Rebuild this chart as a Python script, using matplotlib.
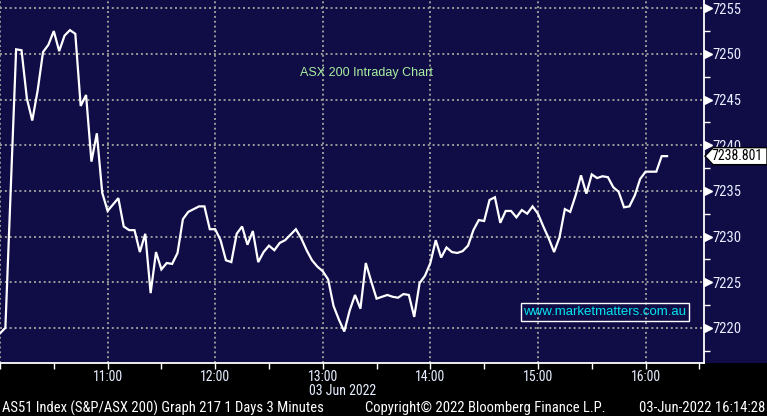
import matplotlib as mpl
mpl.use('Agg')
import matplotlib.pyplot as plt
from matplotlib import font_manager, transforms
from matplotlib.patches import Polygon, Rectangle

# ASX 200 intraday, 3 minute bars, x = minutes after 10:00
minutes = [0, 3, 9, 12, 15, 18, 21, 24, 27, 30, 33, 36, 39, 42, 45, 48, 51, 54, 57, 60,
           66, 69, 72, 75, 78, 81, 84, 87, 90, 93, 96, 99, 102, 105, 111, 114, 117, 120,
           123, 126, 129, 132, 135, 138, 141, 144, 147, 150, 153, 156, 159, 162, 165, 168,
           171, 174, 177, 180, 183, 186, 189, 192, 195, 198, 201, 204, 207, 210, 213, 216,
           219, 222, 225, 228, 231, 234, 237, 240, 243, 246, 249, 252, 255, 258, 261, 264,
           267, 270, 273, 276, 279, 282, 285, 288, 291, 294, 297, 300, 303, 306, 309, 312,
           315, 318, 321, 324, 327, 330, 333, 336, 339, 342, 345, 348, 351, 354, 357, 360,
           363, 366, 369, 372]
prices = [7219.4, 7220.0, 7250.5, 7250.4, 7245.1, 7242.7, 7246.0, 7250.2, 7251.0, 7252.5,
          7250.3, 7252.0, 7252.6, 7252.2, 7244.3, 7245.5, 7238.2, 7241.3, 7234.8, 7232.8,
          7234.2, 7231.1, 7230.7, 7230.7, 7228.3, 7230.3, 7223.8, 7228.3, 7226.4, 7227.1,
          7227.0, 7228.2, 7231.9, 7232.7, 7233.3, 7233.3, 7230.8, 7230.8, 7229.6, 7227.4,
          7227.2, 7230.3, 7231.1, 7229.1, 7230.6, 7227.2, 7228.3, 7229.0, 7228.5, 7229.3,
          7229.6, 7230.2, 7230.8, 7229.8, 7228.5, 7227.4, 7226.7, 7226.2, 7225.3, 7222.4,
          7220.9, 7219.6, 7221.9, 7223.6, 7222.1, 7227.1, 7225.1, 7223.2, 7223.4, 7223.6,
          7223.4, 7223.3, 7223.7, 7223.6, 7221.2, 7224.9, 7225.7, 7227.1, 7229.6, 7227.7,
          7228.8, 7228.3, 7228.2, 7228.4, 7229.0, 7230.7, 7231.8, 7231.7, 7234.0, 7234.3,
          7231.5, 7232.8, 7232.8, 7232.1, 7232.9, 7232.5, 7233.3, 7232.5, 7231.1, 7229.8,
          7228.3, 7229.9, 7233.0, 7232.7, 7234.5, 7236.7, 7234.7, 7236.8, 7236.4, 7236.6,
          7236.5, 7235.4, 7234.9, 7233.2, 7233.3, 7234.5, 7236.3, 7237.1, 7237.1, 7237.1,
          7238.8, 7238.801]
last_price = 7238.801

hour_ticks = [0, 60, 120, 180, 240, 300, 360]
hour_labels = ['', '11:00', '12:00', '13:00', '14:00', '15:00', '16:00']
half_ticks = [30, 90, 150, 210, 270, 330, 390]
price_ticks = [7220, 7225, 7230, 7235, 7240, 7245, 7250, 7255]
minor_price_ticks = [7217.5, 7222.5, 7227.5, 7232.5, 7237.5, 7242.5, 7247.5, 7252.5]

navy = '#100c46'
label_col = '#e6eeff'
W, H = 767, 416


def pick(names):
    have = {f.name for f in font_manager.fontManager.ttflist}
    for n in names:
        if n in have:
            return n
    return 'DejaVu Sans'


narrow = pick(['Liberation Sans Narrow', 'Roboto Condensed', 'Open Sans Condensed', 'Liberation Sans'])
plain = pick(['Liberation Sans', 'Arial', 'DejaVu Sans'])

fig = plt.figure(figsize=(W / 100, H / 100), dpi=100, facecolor=navy)
fig.add_artist(Rectangle((0, 0), 1, 53 / H, transform=fig.transFigure, facecolor='black',
                         edgecolor='none', zorder=-10))

ax = fig.add_axes([0, 53 / H, 704 / W, 363 / H])
ax.set_facecolor(navy)
ax.plot(minutes, prices, color='white', lw=1.6, solid_joinstyle='miter', zorder=3)

ax.set_xlim(0, 392.6)
ax.set_ylim(7216.15, 7255.9)

for s in ['top', 'left']:
    ax.spines[s].set_visible(False)
for s in ['bottom', 'right']:
    ax.spines[s].set_color('white')
    ax.spines[s].set_linewidth(1.3)

ax.set_xticks(hour_ticks)
ax.set_xticklabels(hour_labels)
ax.set_xticks(half_ticks, minor=True)
ax.tick_params(axis='x', which='both', direction='out', length=4, width=1, color='white',
               labelcolor=label_col, labelsize=10, pad=1)
for t in ax.get_xticklabels():
    t.set_fontfamily(narrow)

ax.yaxis.tick_right()
ax.set_yticks(price_ticks)
ax.set_yticks(minor_price_ticks, minor=True)
ax.tick_params(axis='y', which='major', length=0, pad=6, labelcolor=label_col, labelsize=10.5)
ax.tick_params(axis='y', which='minor', length=4, width=1, color='white')
for t in ax.get_yticklabels():
    t.set_fontfamily(narrow)

# triangle markers at the major price ticks
tri_trans = transforms.offset_copy(transforms.blended_transform_factory(ax.transAxes, ax.transData),
                                   fig=fig, x=4, y=0, units='dots')
ax.plot([1] * len(price_ticks), price_ticks, ls='none', marker='>', ms=6, color='white',
        mec='white', transform=tri_trans, clip_on=False)

ax.grid(True, which='major', color='#9a9a9a', lw=1.4, ls=(0, (1, 1.5)))
ax.set_axisbelow(True)

ax.text(0.52, 0.80, 'ASX 200 Intraday Chart', transform=ax.transAxes, color='#a8f0a0',
        fontsize=9, family=plain, ha='center', va='center')
ax.text(605 / 704, 1 - 312 / 363, 'www.marketmatters.com.au', transform=ax.transAxes,
        color='#00e6f0', fontsize=9.5, family=plain, ha='center', va='center',
        bbox=dict(facecolor='none', edgecolor='white', lw=1, pad=2))

# last price tag
yd = ax.transData.transform((0, last_price))[1]
tag = Polygon([(705, yd), (713, yd + 8.5), (767, yd + 8.5), (767, yd - 8.5), (713, yd - 8.5)],
              closed=True, facecolor='white', edgecolor='black', lw=1, zorder=5,
              transform=transforms.IdentityTransform())
fig.add_artist(tag)
fig.text(711, yd, '%.3f' % last_price, transform=transforms.IdentityTransform(), color='black',
         fontsize=10, family=narrow, ha='left', va='center', zorder=6)

fig.text(343 / W, 1 - 391 / H, '03 Jun 2022', color=label_col, fontsize=10, family=narrow,
         ha='center', va='center')
fig.text(2 / W, 1 - 408 / H, 'AS51 Index (S&P/ASX 200) Graph 217 1 Days 3 Minutes', color='white',
         fontsize=10.5, family=narrow, ha='left', va='center')
fig.text(365 / W, 1 - 408 / H, 'Copyright\u00a9 2022 Bloomberg Finance L.P.', color='white',
         fontsize=10.5, family=narrow, ha='left', va='center')
fig.text(765 / W, 1 - 408 / H, '03-Jun-2022 16:14:28', color='white',
         fontsize=10.5, family=narrow, ha='right', va='center')

fig.savefig('out.png', dpi=100, facecolor=navy)
